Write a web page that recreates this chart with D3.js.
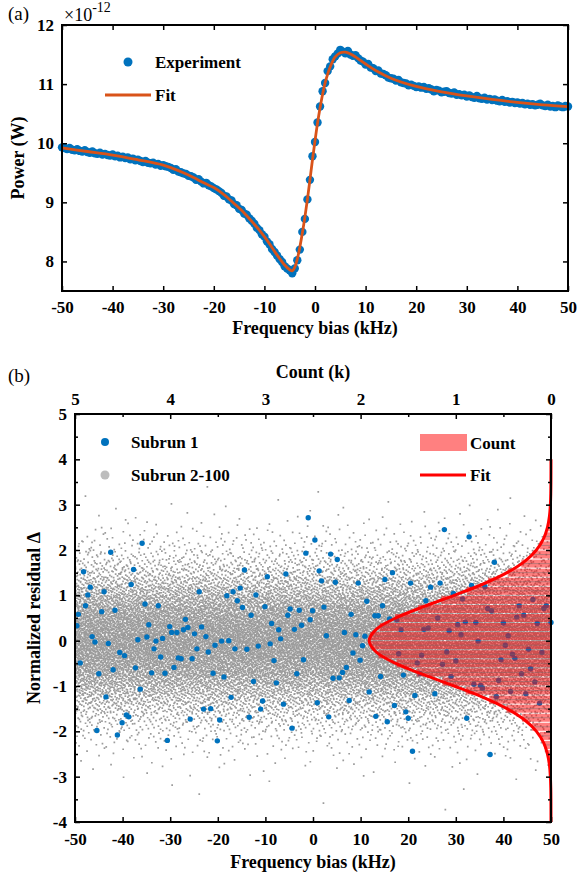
<!DOCTYPE html>
<html>
<head>
<meta charset="UTF-8">
<style>
  body { margin: 0; background: #fff; }
  svg text { font-family: "Liberation Serif", "Times New Roman", serif; }
</style>
</head>
<body>
<script src="https://d3js.org/d3.v7.min.js"></script>
<div id="chart"></div>
<script>
// ---------- panel (a): power vs frequency bias ----------
const freqStart = -50, freqStep = 0.5;
// measured power (x1e-12 W), one value per 0.5 kHz from -50 to 50
const expPower = [
  9.93, 9.92, 9.90, 9.92, 9.89, 9.88, 9.90, 9.87, 9.86, 9.88,
  9.85, 9.84, 9.86, 9.83, 9.82, 9.84, 9.81, 9.82, 9.80, 9.79,
  9.81, 9.78, 9.79, 9.76, 9.77, 9.75, 9.76, 9.73, 9.74, 9.71,
  9.72, 9.70, 9.68, 9.70, 9.67, 9.66, 9.67, 9.64, 9.65, 9.62,
  9.63,
  9.61, 9.60, 9.58, 9.55, 9.56, 9.52, 9.51, 9.49, 9.48, 9.45,
  9.44, 9.42, 9.38, 9.39, 9.35, 9.32, 9.33, 9.29, 9.27, 9.24,
  9.22, 9.19, 9.16, 9.11, 9.10, 9.05, 9.03, 8.97, 8.95, 8.89,
  8.87, 8.81, 8.79, 8.73, 8.69, 8.64, 8.57, 8.53, 8.46, 8.42,
  8.34, 8.29, 8.21, 8.16, 8.10, 8.04, 7.99, 7.92, 7.88, 7.85,
  7.80, 7.88, 8.02, 8.20, 8.50, 8.72, 9.05, 9.38, 9.78, 10.02,
  10.35, 10.62, 10.88, 11.02, 11.22, 11.30, 11.42, 11.47, 11.52, 11.58,
  11.55, 11.52, 11.56, 11.50, 11.48, 11.49, 11.44, 11.40, 11.38, 11.33,
  11.34, 11.28, 11.27, 11.22, 11.23, 11.18, 11.17, 11.15, 11.11, 11.10,
  11.09, 11.06, 11.07, 11.03, 11.02, 11.01, 10.98, 10.99, 10.97, 10.95,
  10.96, 10.94, 10.95, 10.92, 10.93, 10.91, 10.88, 10.90, 10.89, 10.86,
  10.87, 10.88, 10.85, 10.84, 10.86, 10.82, 10.83, 10.81, 10.82, 10.79,
  10.81, 10.78, 10.77, 10.80, 10.76, 10.75, 10.77, 10.74, 10.75, 10.73,
  10.74, 10.72, 10.71, 10.73, 10.70, 10.71, 10.69, 10.70, 10.68, 10.69,
  10.67, 10.68, 10.66, 10.67, 10.65, 10.66, 10.64, 10.65, 10.67, 10.64,
  10.63, 10.65, 10.62, 10.63, 10.61, 10.64, 10.62, 10.61, 10.63, 10.62
];
const fitFreq = [-50, -45, -40, -35, -30, -28, -26, -24, -22, -20, -18, -16, -14, -12, -11, -10,
  -9, -8, -7, -6, -5, -4.5, -4, -3.5, -3, -2.5, -2, -1.5, -1, -0.5, 0, 0.5, 1, 1.5, 2, 2.5,
  3, 3.5, 4, 5, 6, 7, 8, 9, 10, 12, 15, 20, 25, 30, 35, 40, 45, 50];
const fitPower = [9.92, 9.86, 9.80, 9.72, 9.63, 9.57, 9.50, 9.42, 9.33, 9.25, 9.13, 8.98, 8.82, 8.63, 8.53, 8.42,
  8.30, 8.17, 8.05, 7.94, 7.86, 7.84, 7.90, 8.04, 8.24, 8.48, 8.75, 9.05, 9.38, 9.72, 10.04, 10.34, 10.60, 10.83, 11.02, 11.17,
  11.29, 11.39, 11.46, 11.53, 11.54, 11.51, 11.46, 11.40, 11.34, 11.23, 11.10, 10.96, 10.87, 10.80, 10.74, 10.69, 10.65, 10.62];
const powerTicks = [8, 9, 10, 11, 12];
const freqTicks = [-50, -40, -30, -20, -10, 0, 10, 20, 30, 40, 50];

// ---------- panel (b): normalized residuals ----------
// subrun 1 points [frequency bias kHz, residual]
const sub1 = [
  [-42.5,1.95],[-35.9,2.15],[-48.2,1.52],[-37.7,1.57],[-38.2,1.24],[-46.8,1.18],[-43.9,1.08],[-47.3,1.01],
  [-47.8,0.77],[-49.3,0.58],[-44.4,0.64],[-41.6,0.67],[-35.3,0.81],[-32.5,0.77],[-23.9,1.08],[-18.1,0.99],
  [-16.8,1.08],[-49.6,0.33],[-34.5,0.35],[-30.1,0.31],[-26.8,0.47],[-23.4,0.30],[-26.3,0.29],[-27.2,0.24],
  [-29.7,0.18],[-28.6,0.18],[-24.9,0.15],[-46.4,0.09],[-45.8,-0.03],[-43.0,-0.06],[-36.8,0.02],[-34.9,0.08],
  [-33.0,-0.01],[-31.6,0.05],[-33.4,-0.18],[-22.5,0.09],[-20.6,-0.10],[-19.2,-0.01],[-17.7,0.00],[-16.4,-0.18],
  [-24.4,-0.18],[-22.0,-0.25],[-40.6,-0.26],[-39.6,-0.33],[-32.0,-0.36],[-28.3,-0.38],[-27.7,-0.40],[-25.4,-0.40],
  [-48.9,-0.49],[-45.0,-0.73],[-42.0,-0.64],[-37.3,-0.60],[-33.9,-0.71],[-31.1,-0.72],[-29.2,-0.59],[-21.0,-0.72],
  [-18.7,-0.80],[-36.3,-1.07],[-17.2,-1.25],[-43.5,-1.24],[-23.0,-1.51],[-21.5,-1.50],[-39.2,-1.64],[-38.7,-1.68],
  [-40.1,-1.81],[-25.8,-1.73],[-19.6,-1.75],[-45.4,-1.98],[-41.1,-2.08],[-30.6,-2.20],[-20.1,-2.21],
  [-1.0,2.71],[0.4,2.22],[-1.5,1.93],[3.7,1.91],[5.1,1.79],[-14.4,1.56],[-5.7,1.47],[1.3,1.54],
  [-9.6,1.41],[1.8,1.32],[4.7,1.29],[9.5,1.27],[15.1,1.35],[-15.3,1.16],[-12.0,1.01],[-15.9,0.88],
  [-14.8,0.73],[-10.1,0.75],[-13.0,0.56],[-4.8,0.70],[-2.9,0.67],[-0.1,0.66],[2.3,0.74],[-5.3,0.56],
  [-0.6,0.46],[11.3,0.87],[14.6,0.77],[8.0,0.58],[13.0,0.55],[13.7,0.55],[-8.7,0.38],[-7.2,0.24],
  [-3.9,0.25],[-2.4,0.34],[-6.8,0.04],[-9.0,-0.07],[-11.5,-0.12],[-13.9,-0.19],[2.8,0.11],[6.6,0.18],
  [9.0,0.13],[10.9,0.10],[10.4,-0.11],[8.4,-0.27],[9.9,-0.43],[-8.2,-0.44],[-2.0,-0.42],[-3.4,-0.73],
  [7.0,-0.59],[6.2,-0.70],[5.5,-0.82],[4.2,-0.83],[-7.7,-0.93],[-12.5,-0.90],[14.2,-0.79],[11.8,-1.13],
  [-10.6,-1.33],[-11.0,-1.51],[-6.2,-1.40],[0.9,-1.37],[7.6,-1.32],[3.3,-1.68],[-13.4,-1.69],[-4.4,-1.93],
  [13.2,-1.67],[15.6,-1.79],
  [27.6,2.45],[32.8,2.29],[38.1,1.73],[16.7,1.50],[20.5,1.27],[24.7,1.18],[26.7,1.27],[33.3,1.22],
  [36.1,1.19],[29.5,1.04],[31.4,0.92],[23.7,0.88],[46.2,0.91],[49.0,0.77],[48.5,0.71],[43.3,0.77],
  [36.7,0.71],[37.5,0.66],[42.8,0.52],[44.3,0.56],[16.1,0.48],[17.6,0.46],[26.2,0.50],[18.5,0.24],
  [23.3,0.25],[24.2,0.28],[28.6,0.22],[30.4,0.35],[32.0,0.41],[34.2,0.40],[40.0,0.39],[47.1,0.38],
  [31.1,0.13],[41.0,0.11],[50.0,0.40],[34.7,-0.01],[40.4,-0.10],[45.3,-0.19],[48.1,-0.26],[18.0,-0.29],
  [22.8,-0.32],[28.1,-0.25],[21.9,-0.49],[27.2,-0.52],[30.0,-0.45],[39.5,-0.42],[41.9,-0.30],[42.4,-0.39],
  [45.7,-0.62],[43.8,-0.73],[22.5,-0.73],[19.0,-0.76],[29.0,-0.79],[39.0,-0.88],[46.6,-0.91],[33.8,-0.96],
  [35.2,-0.99],[35.6,-1.05],[38.5,-1.23],[41.5,-1.12],[44.7,-1.17],[47.6,-1.38],[21.4,-1.21],[25.6,-1.17],
  [17.1,-1.43],[19.5,-1.57],[20.0,-1.71],[32.3,-1.71],[20.9,-2.44],[37.2,-2.51]
];
// histogram of all residuals, bins of 0.2 from -4 to 4
const binStart = -4, binWidth = 0.2;
const binCounts = [0, 1, 1, 2, 5, 10, 21, 36, 70, 115, 199, 303, 468, 650, 896, 1139, 1410, 1622, 1812, 1893,
  1902, 1798, 1640, 1395, 1152, 884, 662, 455, 312, 192, 121, 66, 38, 18, 9, 5, 2, 1, 0, 0];
// gaussian fit, read at 0.25 steps
const fitDelta = [-4, -3.75, -3.5, -3.25, -3, -2.75, -2.5, -2.25, -2, -1.75, -1.5, -1.25, -1, -0.75, -0.5, -0.25,
  0, 0.25, 0.5, 0.75, 1, 1.25, 1.5, 1.75, 2, 2.25, 2.5, 2.75, 3, 3.25, 3.5, 3.75, 4];
const fitCount = [0.1, 0.3, 0.8, 2.4, 6.5, 16, 37, 78, 153, 276, 462, 712, 1016, 1339, 1631, 1836,
  1910, 1836, 1631, 1339, 1016, 712, 462, 276, 153, 78, 37, 16, 6.5, 2.4, 0.8, 0.3, 0.1];
const residTicks = [-4, -3, -2, -1, 0, 1, 2, 3, 4, 5];
const countTicks = [5000, 4000, 3000, 2000, 1000, 0];

const W = 578, H = 881;
const font = '"Liberation Serif", "Times New Roman", serif';
const svg = d3.select("#chart").append("svg").attr("width", W).attr("height", H);
const plain = d => String(d);

function styleAxis(g, size) {
  g.select(".domain").remove();
  g.selectAll(".tick line").attr("stroke", "#000").attr("stroke-width", 1.5);
  g.selectAll(".tick text").attr("font-family", font).attr("font-weight", "bold")
    .attr("font-size", size).attr("fill", "#000");
}

// ===== panel (a) =====
const a = { l: 62, r: 568, t: 25, b: 291 };
const xA = d3.scaleLinear().domain([-50, 50]).range([a.l, a.r]);
const yA = d3.scaleLinear().domain([7.5, 12]).range([a.b, a.t]);

const expData = expPower.map((p, i) => [freqStart + i * freqStep, p]);
svg.append("g").selectAll("circle").data(expData).join("circle")
  .attr("cx", d => xA(d[0])).attr("cy", d => yA(d[1])).attr("r", 4.2)
  .attr("fill", "#0072BD");

svg.append("path")
  .datum(fitFreq.map((f, i) => [f, fitPower[i]]))
  .attr("fill", "none").attr("stroke", "#D95319").attr("stroke-width", 2.8)
  .attr("d", d3.line().x(d => xA(d[0])).y(d => yA(d[1])).curve(d3.curveCatmullRom.alpha(0.5)));

svg.append("g").attr("transform", `translate(0,${a.b})`)
  .call(d3.axisBottom(xA).tickValues(freqTicks).tickSize(-5).tickPadding(10).tickFormat(plain))
  .call(g => styleAxis(g, 17));
svg.append("g").attr("transform", `translate(0,${a.t})`)
  .call(d3.axisTop(xA).tickValues(freqTicks).tickSize(-5).tickFormat(""))
  .call(g => styleAxis(g, 17));
svg.append("g").attr("transform", `translate(${a.l},0)`)
  .call(d3.axisLeft(yA).tickValues(powerTicks).tickSize(-5).tickPadding(8).tickFormat(plain))
  .call(g => styleAxis(g, 17));
svg.append("g").attr("transform", `translate(${a.r},0)`)
  .call(d3.axisRight(yA).tickValues(powerTicks).tickSize(-5).tickFormat(""))
  .call(g => styleAxis(g, 17));
svg.append("rect").attr("x", a.l).attr("y", a.t).attr("width", a.r - a.l).attr("height", a.b - a.t)
  .attr("fill", "none").attr("stroke", "#000").attr("stroke-width", 2);

svg.append("text").attr("x", 8).attr("y", 20).attr("font-family", font).attr("font-size", 19).text("(a)");
const expo = svg.append("text").attr("x", 64).attr("y", 21).attr("font-family", font).attr("font-size", 18);
expo.append("tspan").text("×10");
expo.append("tspan").attr("dy", -9).attr("font-size", 14).text("-12");

svg.append("text").attr("transform", `translate(24,${(a.t + a.b) / 2}) rotate(-90)`)
  .attr("text-anchor", "middle").attr("font-family", font).attr("font-weight", "bold").attr("font-size", 18)
  .text("Power (W)");
svg.append("text").attr("x", (a.l + a.r) / 2).attr("y", 334).attr("text-anchor", "middle")
  .attr("font-family", font).attr("font-weight", "bold").attr("font-size", 18).text("Frequency bias (kHz)");

// legend (a)
svg.append("circle").attr("cx", 128).attr("cy", 62).attr("r", 4.5).attr("fill", "#0072BD");
svg.append("text").attr("x", 155).attr("y", 68).attr("font-family", font).attr("font-weight", "bold")
  .attr("font-size", 17).text("Experiment");
svg.append("line").attr("x1", 105).attr("x2", 151).attr("y1", 95).attr("y2", 95)
  .attr("stroke", "#D95319").attr("stroke-width", 2.8);
svg.append("text").attr("x", 155).attr("y", 101).attr("font-family", font).attr("font-weight", "bold")
  .attr("font-size", 17).text("Fit");

// ===== panel (b) =====
const b = { l: 75, r: 551, t: 414, b: 822 };
const xB = d3.scaleLinear().domain([-50, 50]).range([b.l, b.r]);
const yB = d3.scaleLinear().domain([-4, 5]).range([b.b, b.t]);
const xC = d3.scaleLinear().domain([5000, 0]).range([b.l, b.r]);

// other 99 subruns: spread over the frequency range with a Halton sequence,
// distributed in residual following the histogram counts
function halton(i, base) {
  let f = 1, r = 0;
  while (i > 0) { f /= base; r += f * (i % base); i = Math.floor(i / base); }
  return r;
}
const cum = d3.cumsum(binCounts);
const total = cum[cum.length - 1];
const nGray = total - sub1.length;
const grayPts = [];
for (let n = 1; n <= nGray; n++) {
  const u = halton(n, 2), v = halton(n, 3);
  const f = -50 + u * 100;
  const target = v * total;
  const k = d3.bisectRight(cum, target);
  const prev = k > 0 ? cum[k - 1] : 0;
  const r = binStart + (k + (target - prev) / binCounts[k]) * binWidth;
  grayPts.push([f, r]);
}
svg.append("path")
  .attr("fill", "#9c9c9c")
  .attr("d", grayPts.map(d => `M${(xB(d[0]) - 0.85).toFixed(1)},${(yB(d[1]) - 0.85).toFixed(1)}h1.7v1.7h-1.7z`).join(""));

svg.append("g").selectAll("circle").data(sub1).join("circle")
  .attr("cx", d => xB(d[0])).attr("cy", d => yB(d[1])).attr("r", 2.7)
  .attr("fill", "#0072BD");

// histogram bars (horizontal)
const bins = binCounts.map((c, i) => ({ c, y0: binStart + i * binWidth, y1: binStart + (i + 1) * binWidth }));
const hb = svg.append("g");
hb.selectAll("rect").data(bins.filter(d => d.c > 0)).join("rect")
  .attr("x", d => xC(d.c)).attr("width", d => xC(0) - xC(d.c))
  .attr("y", d => yB(d.y1) + 0.5).attr("height", d => yB(d.y0) - yB(d.y1) - 1)
  .attr("fill", "rgba(255,0,0,0.5)");
hb.selectAll("line").data(bins.filter(d => d.c > 0)).join("line")
  .attr("x1", d => xC(d.c)).attr("x2", xC(0))
  .attr("y1", d => yB((d.y0 + d.y1) / 2)).attr("y2", d => yB((d.y0 + d.y1) / 2))
  .attr("stroke", "rgba(110,110,110,0.45)").attr("stroke-width", 1);

svg.append("path")
  .datum(fitDelta.map((r, i) => [fitCount[i], r]))
  .attr("fill", "none").attr("stroke", "#FF0000").attr("stroke-width", 3)
  .attr("d", d3.line().x(d => xC(d[0])).y(d => yB(d[1])).curve(d3.curveCatmullRom.alpha(0.5)));

// axes (b)
const residMinor = d3.range(-3.5, 5, 1);
const countMinor = [4500, 3500, 2500, 1500, 500];
svg.append("g").attr("transform", `translate(0,${b.b})`)
  .call(d3.axisBottom(xB).tickValues(freqTicks).tickSize(-5).tickPadding(11).tickFormat(plain))
  .call(g => styleAxis(g, 17));
svg.append("g").attr("transform", `translate(0,${b.t})`)
  .call(d3.axisTop(xC).tickValues(countTicks).tickSize(-5).tickPadding(9).tickFormat(d => String(d / 1000)))
  .call(g => styleAxis(g, 17));
svg.append("g").attr("transform", `translate(0,${b.t})`)
  .call(d3.axisTop(xC).tickValues(countMinor).tickSize(-3).tickFormat(""))
  .call(g => styleAxis(g, 17));
svg.append("g").attr("transform", `translate(${b.l},0)`)
  .call(d3.axisLeft(yB).tickValues(residTicks).tickSize(-5).tickPadding(8).tickFormat(plain))
  .call(g => styleAxis(g, 17));
svg.append("g").attr("transform", `translate(${b.l},0)`)
  .call(d3.axisLeft(yB).tickValues(residMinor).tickSize(-3).tickFormat(""))
  .call(g => styleAxis(g, 17));
svg.append("g").attr("transform", `translate(${b.r},0)`)
  .call(d3.axisRight(yB).tickValues(residTicks).tickSize(-5).tickFormat(""))
  .call(g => styleAxis(g, 17));
svg.append("g").attr("transform", `translate(${b.r},0)`)
  .call(d3.axisRight(yB).tickValues(residMinor).tickSize(-3).tickFormat(""))
  .call(g => styleAxis(g, 17));
svg.append("rect").attr("x", b.l).attr("y", b.t).attr("width", b.r - b.l).attr("height", b.b - b.t)
  .attr("fill", "none").attr("stroke", "#000").attr("stroke-width", 2);

svg.append("text").attr("x", 8).attr("y", 382).attr("font-family", font).attr("font-size", 19).text("(b)");
svg.append("text").attr("x", (b.l + b.r) / 2).attr("y", 378).attr("text-anchor", "middle")
  .attr("font-family", font).attr("font-weight", "bold").attr("font-size", 18).text("Count (k)");
svg.append("text").attr("transform", `translate(40,${(b.t + b.b) / 2}) rotate(-90)`)
  .attr("text-anchor", "middle").attr("font-family", font).attr("font-weight", "bold").attr("font-size", 18)
  .text("Normalized residual Δ");
svg.append("text").attr("x", (b.l + b.r) / 2).attr("y", 868).attr("text-anchor", "middle")
  .attr("font-family", font).attr("font-weight", "bold").attr("font-size", 18).text("Frequency bias (kHz)");

// legend (b)
svg.append("circle").attr("cx", 105).attr("cy", 442).attr("r", 4).attr("fill", "#0072BD");
svg.append("text").attr("x", 131).attr("y", 448).attr("font-family", font).attr("font-weight", "bold")
  .attr("font-size", 17).text("Subrun 1");
svg.append("circle").attr("cx", 105).attr("cy", 475).attr("r", 4.5).attr("fill", "#bdbdbd");
svg.append("text").attr("x", 131).attr("y", 481).attr("font-family", font).attr("font-weight", "bold")
  .attr("font-size", 17).text("Subrun 2-100");
svg.append("rect").attr("x", 420).attr("y", 434).attr("width", 47).attr("height", 17).attr("fill", "#ff8080");
svg.append("text").attr("x", 470).attr("y", 449).attr("font-family", font).attr("font-weight", "bold")
  .attr("font-size", 17).text("Count");
svg.append("line").attr("x1", 420).attr("x2", 466).attr("y1", 475).attr("y2", 475)
  .attr("stroke", "#FF0000").attr("stroke-width", 3);
svg.append("text").attr("x", 470).attr("y", 481).attr("font-family", font).attr("font-weight", "bold")
  .attr("font-size", 17).text("Fit");
</script>
</body>
</html>
